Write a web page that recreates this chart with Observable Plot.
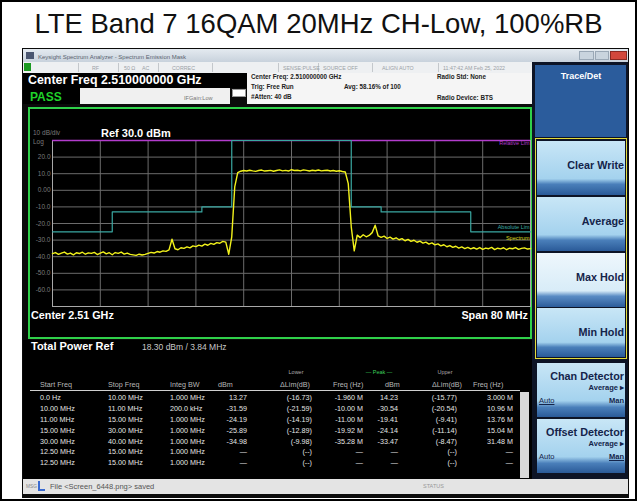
<!DOCTYPE html>
<html><head><meta charset="utf-8">
<script src="https://cdn.jsdelivr.net/npm/d3@7"></script>
<script src="https://cdn.jsdelivr.net/npm/@observablehq/plot@0.6"></script>
<style>
html,body{margin:0;padding:0;background:#fff;}
#root{position:relative;width:637px;height:501px;overflow:hidden;font-family:"Liberation Sans",Arial,sans-serif;background:#fff;}
.abs{position:absolute;white-space:nowrap;box-sizing:border-box;}
</style></head><body><div id="root"></div>
<script>
// ---------------- data ----------------
const titleText = "LTE Band 7 16QAM 20MHz CH-Low, 100%RB";
// sweep: offset from centre (MHz), 0.5 MHz step from -40 to +40
const sweepStart = -40, sweepStep = 0.5;
const traceDbm = [
 -38.2,-37.5,-38.6,-37.9,-37.2,-38.4,-37.8,-38.9,-37.6,-38.1,
 -37.3,-38.5,-37.7,-38.0,-37.4,-38.7,-37.9,-37.1,-38.3,-37.6,
 -38.8,-37.5,-38.0,-37.2,-38.4,-37.8,-38.6,-38.9,-39.2,-38.5,
 -39.0,-38.6,-38.0,-37.4,-37.8,-36.9,-37.3,-36.5,-36.8,-35.9,
 -29.5,-35.2,-35.8,-34.6,-35.0,-34.1,-34.7,-33.5,-33.9,-33.0,
 -33.6,-32.4,-33.1,-32.0,-32.6,-31.5,-31.9,-30.8,-31.2,-38.5,
 -28.0,  2.0, 10.6, 11.5, 11.9, 11.6, 12.1, 11.7, 11.4, 11.9,
  12.2, 11.6, 11.8, 12.0, 11.5, 11.9, 12.3, 11.7, 12.0, 11.6,
  12.4, 11.9, 12.1, 11.7, 12.3, 12.0, 11.6, 12.1, 11.8, 12.2,
  11.7, 11.9, 12.1, 11.6, 11.9, 11.5, 11.8, 11.3, 11.0,  4.0,
 -22.0,-36.5,-27.0,-28.5,-26.8,-28.0,-27.2,-25.5,-21.0,-27.5,
 -28.3,-27.6,-29.0,-28.2,-29.4,-28.6,-29.8,-29.1,-30.4,-29.6,
 -30.8,-30.1,-31.3,-30.6,-31.8,-31.2,-32.4,-31.7,-32.9,-32.3,
 -33.5,-32.8,-34.0,-33.3,-34.4,-33.7,-34.8,-34.1,-35.1,-34.4,
 -35.3,-34.6,-35.4,-34.5,-35.6,-34.8,-35.2,-34.4,-35.7,-34.9,
 -35.3,-34.6,-35.8,-34.9,-35.2,-34.5,-35.6,-35.0,-34.7,-35.4,
 -35.1
];
const maskFreq = [-40,-30,-15,-10,10,15,30,40];
const maskDbm  = [-25,-13,-10, 30,-10,-13,-25,-25];
const relLimitDbm = 30;
const xTicks = [-40,-32,-24,-16,-8,0,8,16,24,32,40];
const yTicks = [30,20,10,0,-10,-20,-30,-40,-50,-60,-70];
const yLabelTicks = [20,10,0,-10,-20,-30,-40,-50,-60];
const traceLabels = ["Relative Lim","Absolute Lim","Spectrum"];

const colStart = ["0.0 Hz","10.00 MHz","11.00 MHz","15.00 MHz","30.00 MHz","12.50 MHz","12.50 MHz"];
const colStop  = ["10.00 MHz","11.00 MHz","15.00 MHz","30.00 MHz","40.00 MHz","15.00 MHz","15.00 MHz"];
const colBW    = ["1.000 MHz","200.0 kHz","1.000 MHz","1.000 MHz","1.000 MHz","1.000 MHz","1.000 MHz"];
const colLoDbm = ["13.27","-31.59","-24.19","-25.89","-34.98","—","—"];
const colLoLim = ["(-16.73)","(-21.59)","(-14.19)","(-12.89)","(-9.98)","(--)","(--)"];
const colLoFreq= ["-1.960 M","-10.00 M","-11.00 M","-19.92 M","-35.28 M","—","—"];
const colUpDbm = ["14.23","-30.54","-19.41","-24.14","-33.47","—","—"];
const colUpLim = ["(-15.77)","(-20.54)","(-9.41)","(-11.14)","(-8.47)","(--)","(--)"];
const colUpFreq= ["3.000 M","10.96 M","13.76 M","15.04 M","31.48 M","—","—"];

const softkeys = ["Clear Write","Average","Max Hold","Min Hold"];

// ---------------- helpers ----------------
const root = document.getElementById("root");
function box(x,y,w,h,bg,extra=""){
  const d=document.createElement("div"); d.className="abs";
  d.style.cssText=`left:${x}px;top:${y}px;width:${w}px;height:${h}px;background:${bg};${extra}`;
  root.appendChild(d); return d;
}
function txt(s,x,y,size,color,o={}){
  const d=document.createElement("div"); d.className="abs"; d.textContent=s;
  let css=`top:${y-0.8465*size}px;font-size:${size}px;line-height:${size}px;color:${color};font-weight:${o.weight||400};`;
  if(o.anchor==="end") css+=`right:${637-x}px;`;
  else if(o.anchor==="middle") css+=`left:${x}px;transform:translateX(-50%);`;
  else css+=`left:${x}px;`;
  if(o.extra) css+=o.extra;
  d.style.cssText=css; root.appendChild(d); return d;
}

// ---------------- title ----------------
txt(titleText, 318.5, 33, 27.5, "#111", {anchor:"middle"});

// ---------------- screenshot frame ----------------
box(22,48,607,450,"#0b0b0b");
box(23,49,605,13,"linear-gradient(#e4eaf0,#c8d2dc)");
box(26,52,8,7,"#4a5670");
txt("Keysight Spectrum Analyzer - Spectrum Emission Mask",38,59,6,"#5a6470");
box(579,51,15,9,"#c9d4de","border:1px solid #9aa8b6;");
box(595,51,14,9,"#c9d4de","border:1px solid #9aa8b6;");
box(610,51,17,9,"#d2483c","border:1px solid #8a2a22;");

// status row
box(23,62,509,11,"#eef0f2");
box(24,63,7,8,"#1c9a22");
[78,118,158,212,278,318,372,438].forEach(x=>box(x,63,1,9,"#c4c8cc"));
[["RF",92],["50 Ω",124],["AC",142],["CORREC",172],["SENSE:PULSE",283],["SOURCE OFF",323],["ALIGN AUTO",382],["11:47:42 AM Feb 25, 2022",443]]
  .forEach(([s,x])=>txt(s,x,70,5.3,"#9aa0a6"));

// measurement bar
box(23,73,224,15,"#000");
txt("Center Freq 2.510000000 GHz",28,84,12.4,"#fff",{weight:700});
box(23,88,57,16,"#000");
txt("PASS",30,101,12,"#1fd22a",{weight:700});
box(80,88,150,16,"#f0f0f0");
txt("IFGain:Low",184,101,5.6,"#777");
box(232,89,14,8,"#fff","border:1px solid #999;");
box(247,73,285,31,"#f5f5f5");
txt("Center Freq: 2.510000000 GHz",251,79,6.3,"#222",{weight:700});
txt("Trig: Free Run",251,89,6.3,"#222",{weight:700});
txt("#Atten: 40 dB",251,99.5,6.3,"#222",{weight:700});
txt("Avg: 58.16% of 100",344,89,6.3,"#222",{weight:700});
txt("Radio Std: None",437,79,6.3,"#222",{weight:700});
txt("Radio Device: BTS",437,100,6.3,"#222",{weight:700});

// right soft-key panel
box(532,62,96,418,"#0d1426");
box(535,65,91,72,"#2b5c9c");
txt("Trace/Det",581,80,9,"#fff",{weight:700,anchor:"middle"});
box(535,138,92,221,"transparent","border:1.5px solid #e3dc3c;");
const keyTop=[141,197,253,308], keyH=[54,54,54,49];
softkeys.forEach((k,i)=>{
  const light = i===2;
  box(537,keyTop[i],88,keyH[i], light
    ? "linear-gradient(#eef7fc 0%,#d8ecf8 70%,#5a8cc4 80%,#2c5c9a 100%)"
    : "linear-gradient(#c8e6f6 0%,#a4d2ee 70%,#4a7fba 80%,#2a5a98 100%)");
  txt(k,624,keyTop[i]+28,10.8,"#14244a",{weight:700,anchor:"end"});
});
[[363,"Chan Detector","Auto","Man",false],[419,"Offset Detector","Auto","Man",true]].forEach(([y,t,a,m,manU])=>{
  box(537,y,88,54,"linear-gradient(#c8e6f6 0%,#a4d2ee 70%,#4a7fba 82%,#2a5a98 100%)");
  txt(t,624,y+17,10.8,"#14244a",{weight:700,anchor:"end"});
  txt("Average ▸",624,y+27,7.5,"#14244a",{weight:700,anchor:"end"});
  txt(a,539,y+40,7.5,"#14244a",{extra: manU?"":"text-decoration:underline;"});
  txt(m,624,y+40,7.5,"#14244a",{weight:700,anchor:"end",extra: manU?"text-decoration:underline;":""});
});

// ---------------- spectrum plot ----------------
box(28,107,504,232,"#000","border:2px solid #2fd04a;");
const trace = traceDbm.map((v,i)=>({f: sweepStart + i*sweepStep, v}));
const mask = maskFreq.map((f,i)=>({f, v: maskDbm[i]}));
const fmtY = d => d===0 ? "0.00" : (d<0?"-":"") + Math.abs(d).toFixed(1);
const chart = Plot.plot({
  width: 500, height: 228,
  marginLeft: 22, marginRight: 0, marginTop: 31, marginBottom: 31,
  style: {background:"#000", color:"#7a7a7a", fontFamily:"Liberation Sans, Arial, sans-serif", overflow:"visible"},
  x: {domain:[-40,40], axis:null},
  y: {domain:[-70,30], axis:null},
  marks: [
    Plot.gridX(xTicks, {stroke:"#6c6c6c", strokeOpacity:1}),
    Plot.gridY(yTicks, {stroke:"#6c6c6c", strokeOpacity:1}),
    Plot.frame({stroke:"#a8a8a8"}),
    Plot.axisY({ticks: yLabelTicks, label:null, tickSize:0, tickPadding:2, tickFormat: fmtY, fill:"#7a7a7a", fontSize:6.5}),
    Plot.ruleY([relLimitDbm], {stroke:"#b23ccc", strokeWidth:1.6}),
    Plot.line(mask, {x:"f", y:"v", curve:"step-after", stroke:"#3aa8a2", strokeWidth:1.2}),
    Plot.line(trace, {x:"f", y:"v", stroke:"#f2f21c", strokeWidth:1.4}),
    Plot.text([{t:traceLabels[0], v:relLimitDbm}], {frameAnchor:"right", y:"v", text:"t", textAnchor:"end", dx:-1, dy:3, fill:"#b23ccc", fontSize:5.5}),
    Plot.text([{t:traceLabels[1], v:maskDbm[maskDbm.length-1]}], {frameAnchor:"right", y:"v", text:"t", textAnchor:"end", dx:-1, dy:-5, fill:"#3aa8a2", fontSize:5.5}),
    Plot.text([{t:traceLabels[2], v:traceDbm[traceDbm.length-1]}], {frameAnchor:"right", y:"v", text:"t", textAnchor:"end", dx:-1, dy:-10, fill:"#d8d820", fontSize:5.5})
  ]
});
chart.style.position="absolute"; chart.style.left="30px"; chart.style.top="109px";
root.appendChild(chart);
txt("10 dB/div",33,135.5,6.5,"#7a7a7a");
txt("Log",33,145,6.5,"#7a7a7a");
txt("Ref 30.0 dBm",101,137,11,"#fff",{weight:700});
txt("Center  2.51 GHz",31,319,10.8,"#fff",{weight:700});
txt("Span 80 MHz",528,319,10.8,"#fff",{weight:700,anchor:"end"});

// ---------------- result table ----------------
box(23,340,509,139,"#000");
txt("Total Power Ref",31,350,11,"#fff",{weight:700});
txt("18.30 dBm /  3.84 MHz",142,350,8.5,"#c8c8c8");
txt("Lower",296,375,5.5,"#aaa",{anchor:"middle"});
txt("— Peak —",379,375,5.5,"#3ccf5a",{anchor:"middle"});
txt("Upper",445,375,5.5,"#aaa",{anchor:"middle"});
[["Start Freq",40],["Stop Freq",108],["Integ BW",170],["dBm",218],["ΔLim(dB)",280],["Freq (Hz)",333],["dBm",385],["ΔLim(dB)",432],["Freq (Hz)",473]]
  .forEach(([s,x])=>txt(s,x,387,7.2,"#b8b8b8"));
box(30,390,490,1,"#d0d0d0");
box(520,392,9,86,"#d8d8d8");
const rowColor="#e6e6e6";
colStart.forEach((_,i)=>{
  const y = 400.5 + i*10.8;
  txt(colStart[i],40,y,7.2,rowColor);
  txt(colStop[i],108,y,7.2,rowColor);
  txt(colBW[i],170,y,7.2,rowColor);
  txt(colLoDbm[i],247,y,7.2,rowColor,{anchor:"end"});
  txt(colLoLim[i],312,y,7.2,rowColor,{anchor:"end"});
  txt(colLoFreq[i],363,y,7.2,rowColor,{anchor:"end"});
  txt(colUpDbm[i],398,y,7.2,rowColor,{anchor:"end"});
  txt(colUpLim[i],457,y,7.2,rowColor,{anchor:"end"});
  txt(colUpFreq[i],513,y,7.2,rowColor,{anchor:"end"});
});

// status bar
box(23,479,605,15,"#e4e4e4");
txt("MSG",26,489,4.8,"#888");
box(38,481,7,10,"transparent","border-left:2px solid #3a6ad0;border-bottom:2px solid #3a6ad0;");
txt("File <Screen_6448.png> saved",50,489.5,7.5,"#555");
txt("STATUS",423,489,5.5,"#999");

// outer frame
box(0,0,637,501,"transparent","border:2px solid #000;");
</script></body></html>
